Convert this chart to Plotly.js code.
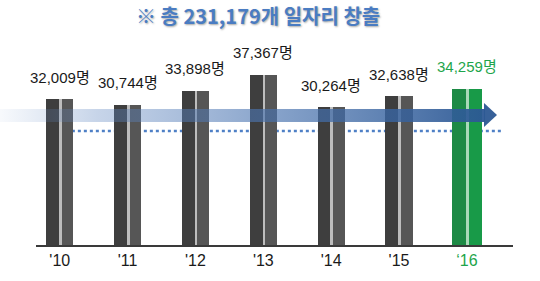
<!DOCTYPE html>
<html><head><meta charset="utf-8">
<script src="https://cdn.plot.ly/plotly-3.0.1.min.js"></script>
<style>html,body{margin:0;padding:0;background:#fff}#chart{width:540px;height:281px}</style>
</head><body><div id="chart"></div>
<script>
const years = ["'10", "'11", "'12", "'13", "'14", "'15", "‘16"];
const jobs = [32009, 30744, 33898, 37367, 30264, 32638, 34259];
const labels = ["32,009명", "30,744명", "33,898명", "37,367명", "30,264명", "32,638명", "34,259명"];
const totalTitle = "※ 총 231,179개 일자리 창출";

const GREEN = '#1ea54b';
const isLast = years.map((_, i) => i === years.length - 1);
const idx = years.map((_, i) => i);

const base = {
  type: 'bar', x: idx, y: jobs, hoverinfo: 'skip', showlegend: false,
  marker: {line: {width: 0}}
};
const tMain = Object.assign({}, base, {
  width: isLast.map(g => g ? 0.44 : 0.40),
  offset: isLast.map(g => g ? -0.22 : -0.20),
  marker: {color: isLast.map(g => g ? '#1d8a45' : '#3e3e3e'), line: {width: 0}}
});
const tRight = Object.assign({}, base, {
  width: isLast.map(g => g ? 0.20 : 0.17),
  offset: isLast.map(g => g ? 0.02 : 0.03),
  marker: {color: isLast.map(g => g ? '#189a48' : '#565656'), line: {width: 0}}
});
const tStripe = Object.assign({}, base, {
  width: isLast.map(g => g ? 0.04 : 0.04),
  offset: isLast.map(g => g ? -0.01 : -0.01),
  marker: {color: isLast.map(g => g ? '#a9d9b8' : '#bdbdbd'), line: {width: 0}}
});

const annotations = jobs.map((v, i) => ({
  x: idx[i], y: v, xref: 'x', yref: 'y', text: labels[i], showarrow: false,
  yanchor: 'middle', yshift: 22,
  font: {family: 'Liberation Sans, Arial, Noto Sans CJK KR', size: 15, color: isLast[i] ? GREEN : '#1a1a1a'}
}));

const arrowSvg = '<svg xmlns="http://www.w3.org/2000/svg" width="497" height="24" viewBox="0 0 497 24" preserveAspectRatio="none">' +
  '<defs><linearGradient id="g" x1="0" x2="1" y1="0" y2="0">' +
  '<stop offset="0" stop-color="#6a8fc8" stop-opacity="0.05"/>' +
  '<stop offset="0.2" stop-color="#5f86c0" stop-opacity="0.35"/>' +
  '<stop offset="0.55" stop-color="#4a74b0" stop-opacity="0.65"/>' +
  '<stop offset="1" stop-color="#2c5894" stop-opacity="0.95"/>' +
  '</linearGradient></defs>' +
  '<rect x="0" y="6" width="485" height="13" fill="url(#g)"/>' +
  '<polygon points="484,0 497,12 484,24" fill="#2c5894" fill-opacity="0.95"/></svg>';

const layout = {
  width: 540, height: 281,
  margin: {l: 36, r: 27, t: 40, b: 36},
  paper_bgcolor: '#ffffff', plot_bgcolor: '#ffffff',
  barmode: 'overlay', bargap: 0,
  title: {
    text: totalTitle, x: 0.478, xanchor: 'center', y: 0.94, yanchor: 'middle',
    font: {family: 'Noto Sans CJK KR', size: 20, weight: 700, color: '#4a7cc2',
           shadow: '1px 1px 2px rgba(0,0,0,0.35)'}
  },
  xaxis: {
    type: 'linear', range: [-0.35, 6.68], tickmode: 'array', tickvals: idx,
    ticktext: years.map((t, i) => isLast[i] ? '<span style="color:' + GREEN + '">' + t + '</span>' : t),
    showline: true, linecolor: '#3a3a3a', linewidth: 2, ticks: '', showgrid: false, zeroline: false,
    tickfont: {family: 'Liberation Sans, Arial', size: 16, color: '#1a1a1a'}, fixedrange: true
  },
  yaxis: {range: [0, 45000], visible: false, showgrid: false, zeroline: false, fixedrange: true},
  shapes: [{
    type: 'line', xref: 'paper', yref: 'paper', x0: 0.05, x1: 0.975, y0: 0.556, y1: 0.556,
    layer: 'below', line: {color: '#4f80c6', width: 2.5, dash: 'dot'}
  }],
  images: [{
    source: 'data:image/svg+xml;charset=utf-8,' + encodeURIComponent(arrowSvg),
    xref: 'paper', yref: 'paper', x: -0.0755, y: 0.6927, sizex: 1.042, sizey: 0.117,
    xanchor: 'left', yanchor: 'top', sizing: 'stretch', layer: 'above'
  }],
  annotations: annotations
};

Plotly.newPlot('chart', [tMain, tRight, tStripe], layout, {displayModeBar: false, staticPlot: true});
</script></body></html>
